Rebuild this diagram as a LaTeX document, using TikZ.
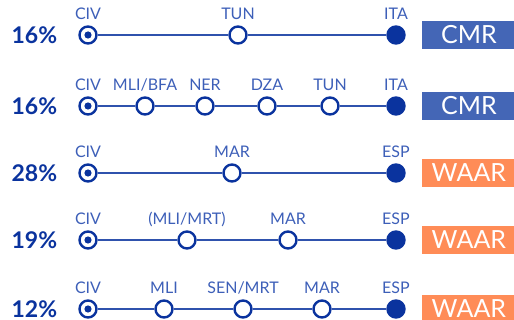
\documentclass[tikz,border=0pt]{standalone}
\usepackage{fontspec}
\setmainfont{Lato}
\usetikzlibrary{positioning}

\definecolor{navy}{HTML}{0A339E}
\definecolor{lblue}{HTML}{3D5FB8}
\definecolor{cmrblue}{HTML}{4466B6}
\definecolor{waarorange}{HTML}{FF8C57}

\begin{document}
\begin{tikzpicture}[
  x=1pt, y=-1pt,
  stop/.style={circle, draw=navy, line width=2.4pt, fill=white, minimum size=17pt, inner sep=0pt},
  origin/.style={stop, path picture={\fill[navy] (path picture bounding box.center) circle (3.6pt);}},
  dest/.style={stop, fill=navy},
  lbl/.style={text=lblue, font=\fontsize{16}{18}\selectfont, inner sep=0pt, text depth=0pt},
  pct/.style={text=navy, font=\fontsize{23}{26}\selectfont\bfseries, inner sep=0pt, left=21pt of #1},
  corridor/.style={fill=#1, text=white, font=\fontsize{25}{28}\selectfont, minimum width=93pt, minimum height=28pt, inner sep=0pt},
  route/.style={draw=navy!85, line width=1.5pt},
  label distance=5.5pt
]
\useasboundingbox (0,0) rectangle (514,320);

% row 1
\node[origin, label={[lbl]above:CIV}] (civ1) at (88,35) {};
\node[stop, label={[lbl]above:TUN}] (tun1) at (238,35) {};
\node[dest, label={[lbl]above:ITA}] (ita1) at (396,35) {};
\draw[route] (civ1) -- (tun1) -- (ita1);
\node[pct=civ1] (pct1) {16\%};
\node[corridor=cmrblue, right=16.5pt of ita1] (cmr1) {CMR};

% row 2
\node[origin, label={[lbl]above:CIV}] (civ2) at (88,106) {};
\node[stop, label={[lbl]above:MLI/BFA}] (mli2) at (145,106) {};
\node[stop, label={[lbl]above:NER}] (ner2) at (205,106) {};
\node[stop, label={[lbl]above:DZA}] (dza2) at (267,106) {};
\node[stop, label={[lbl]above:TUN}] (tun2) at (330,106) {};
\node[dest, label={[lbl]above:ITA}] (ita2) at (396,106) {};
\draw[route] (civ2) -- (mli2) -- (ner2) -- (dza2) -- (tun2) -- (ita2);
\node[pct=civ2] (pct2) {16\%};
\node[corridor=cmrblue, right=16.5pt of ita2] (cmr2) {CMR};

% row 3
\node[origin, label={[lbl]above:CIV}] (civ3) at (88,173) {};
\node[stop, label={[lbl]above:MAR}] (mar3) at (232,173) {};
\node[dest, label={[lbl]above:ESP}] (esp3) at (396,173) {};
\draw[route] (civ3) -- (mar3) -- (esp3);
\node[pct=civ3] (pct3) {28\%};
\node[corridor=waarorange, right=16.5pt of esp3] (waar3) {WAAR};

% row 4
\node[origin, label={[lbl]above:CIV}] (civ4) at (88,240) {};
\node[stop, label={[lbl]above:(MLI/MRT)}] (mlimrt4) at (187,240) {};
\node[stop, label={[lbl]above:MAR}] (mar4) at (288,240) {};
\node[dest, label={[lbl]above:ESP}] (esp4) at (396,240) {};
\draw[route] (civ4) -- (mlimrt4) -- (mar4) -- (esp4);
\node[pct=civ4] (pct4) {19\%};
\node[corridor=waarorange, right=16.5pt of esp4] (waar4) {WAAR};

% row 5 (cut off at the bottom edge)
\node[origin, label={[lbl]above:CIV}] (civ5) at (88,309) {};
\node[stop, label={[lbl]above:MLI}] (mli5) at (164,309) {};
\node[stop, label={[lbl]above:SEN/MRT}] (senmrt5) at (243,309) {};
\node[stop, label={[lbl]above:MAR}] (mar5) at (322,309) {};
\node[dest, label={[lbl]above:ESP}] (esp5) at (396,309) {};
\draw[route] (civ5) -- (mli5) -- (senmrt5) -- (mar5) -- (esp5);
\node[pct=civ5] (pct5) {12\%};
\node[corridor=waarorange, right=16.5pt of esp5] (waar5) {WAAR};

\end{tikzpicture}
\end{document}
